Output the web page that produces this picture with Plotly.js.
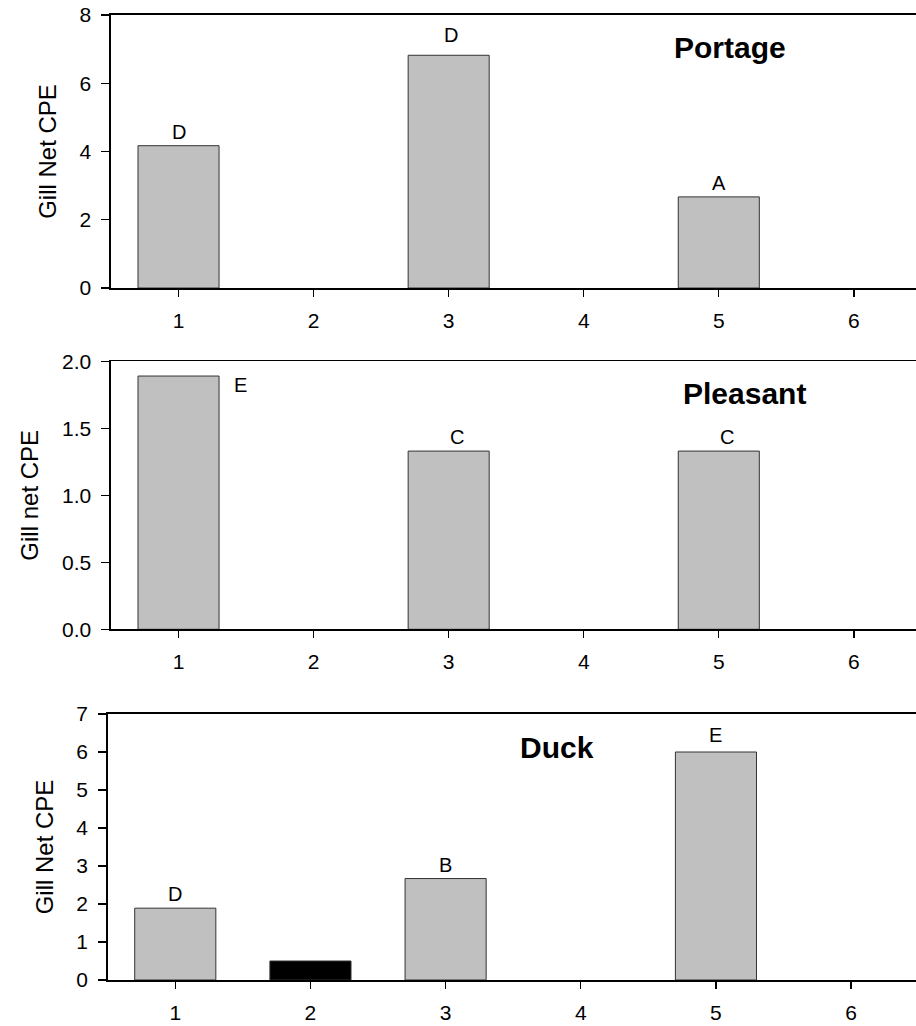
<!DOCTYPE html>
<html>
<head>
<meta charset="utf-8">
<script src="https://cdn.plot.ly/plotly-3.0.1.min.js"></script>
<style>html,body{margin:0;padding:0;background:#fff;}#chart{width:916px;height:1026px;}</style>
</head>
<body>
<div id="chart"></div>
<script>
const categories = [1, 2, 3, 4, 5, 6];
const xTickLabels = ['1', '2', '3', '4', '5', '6'];

const portageValues = [4.17, 0, 6.82, 0, 2.67, 0];
const portageLabels = ['D', '', 'D', '', 'A', ''];

const pleasantValues = [1.89, 0, 1.33, 0, 1.33, 0];
const pleasantLabels = ['E', '', 'C', '', 'C', ''];

const duckValues = [1.89, 0.5, 2.67, 0, 6.0, 0];
const duckLabels = ['D', '', 'B', '', 'E', ''];
const duckColors = ['#c0c0c0', '#000000', '#c0c0c0', '#c0c0c0', '#c0c0c0', '#c0c0c0'];

const panelNames = ['Portage', 'Pleasant', 'Duck'];
const yTitles = ['Gill Net CPE', 'Gill net CPE', 'Gill Net CPE'];

const W = 916, H = 1026;
const FONT = 'Liberation Sans, Arial, sans-serif';

function barTrace(values, colors, xa, ya) {
  return {
    type: 'bar', x: categories, y: values, xaxis: xa, yaxis: ya,
    width: 0.6,
    marker: {
      color: colors || '#c0c0c0',
      line: { color: '#333333', width: values.map(v => (v > 0 ? 1 : 0)) }
    },
    hoverinfo: 'x+y', showlegend: false
  };
}

const data = [
  barTrace(portageValues, null, 'x', 'y'),
  barTrace(pleasantValues, null, 'x2', 'y2'),
  barTrace(duckValues, duckColors, 'x3', 'y3')
];

function xAxis(domain, range, anchor) {
  return {
    domain: domain, range: range, anchor: anchor,
    tickmode: 'array', tickvals: categories, ticktext: xTickLabels,
    showline: true, mirror: true, linecolor: '#000', linewidth: 1.6,
    ticks: 'outside', ticklen: 7, tickwidth: 1.4, tickcolor: '#000',
    ticklabelstandoff: 6,
    showgrid: false, zeroline: false,
    tickfont: { family: FONT, size: 21, color: '#000' }
  };
}
function yAxis(domain, range, dtick, fmt, title, anchor) {
  return {
    domain: domain, range: range, anchor: anchor,
    dtick: dtick, tick0: 0, tickformat: fmt,
    showline: true, linecolor: '#000', linewidth: 1.6,
    ticks: 'outside', ticklen: 8, tickwidth: 1.4, tickcolor: '#000',
    ticklabelstandoff: 6,
    showgrid: false, zeroline: false,
    tickfont: { family: FONT, size: 21, color: '#000' },
    title: { text: title, standoff: 16, font: { family: FONT, size: 24, color: '#000' } }
  };
}

const layout = {
  width: W, height: H,
  margin: { l: 0, r: 0, t: 0, b: 0 },
  paper_bgcolor: '#fff', plot_bgcolor: '#fff',
  showlegend: false,
  xaxis: xAxis([111 / W, 1], [0.5, 6.46], 'y'),
  yaxis: yAxis([1 - 288 / H, 1 - 15 / H], [0, 8], 2, 'd', yTitles[0], 'x'),
  xaxis2: xAxis([111 / W, 1], [0.5, 6.46], 'y2'),
  yaxis2: yAxis([1 - 629.3 / H, 1 - 361.3 / H], [0, 2], 0.5, '.1f', yTitles[1], 'x2'),
  xaxis3: xAxis([107.7 / W, 1], [0.5, 6.48], 'y3'),
  yaxis3: yAxis([1 - 980 / H, 1 - 714 / H], [0, 7], 1, 'd', yTitles[2], 'x3'),
  annotations: []
};

// small per-panel label nudges (layout only): [panelIndex, barIndex] -> {dx, dy}
const labelNudge = { '0-2': { dx: 2, dy: 6 }, '1-2': { dx: 8, dy: 0 }, '1-4': { dx: 8, dy: 0 }, '2-4': { dx: 0, dy: 3 } };

function addLabels(p, values, labels, xref, yref, besideFirst) {
  labels.forEach((t, i) => {
    if (!t) return;
    const n = labelNudge[p + '-' + i] || { dx: 0, dy: 0 };
    const a = {
      x: categories[i], y: values[i], xref: xref, yref: yref,
      text: t, showarrow: false,
      font: { family: FONT, size: 20, color: '#000' },
      xanchor: 'center', yanchor: 'bottom', yshift: 1 + n.dy, xshift: n.dx
    };
    if (besideFirst && i === 0) {
      a.xanchor = 'center'; a.xshift = 62; a.yanchor = 'top'; a.yshift = 4;
    }
    layout.annotations.push(a);
  });
}
addLabels(0, portageValues, portageLabels, 'x', 'y', false);
addLabels(1, pleasantValues, pleasantLabels, 'x2', 'y2', true);
addLabels(2, duckValues, duckLabels, 'x3', 'y3', false);

const titlePos = [[672, 47.5], [681, 393.5], [517.7, 747]];
panelNames.forEach((n, i) => {
  layout.annotations.push({
    xref: 'paper', yref: 'paper',
    x: titlePos[i][0] / W, y: 1 - titlePos[i][1] / H,
    xanchor: 'left', yanchor: 'middle',
    text: '<b>' + n + '</b>', showarrow: false,
    font: { family: FONT, size: 30, color: '#000' }
  });
});

Plotly.newPlot('chart', data, layout, { displayModeBar: false, staticPlot: true });
</script>
</body>
</html>
